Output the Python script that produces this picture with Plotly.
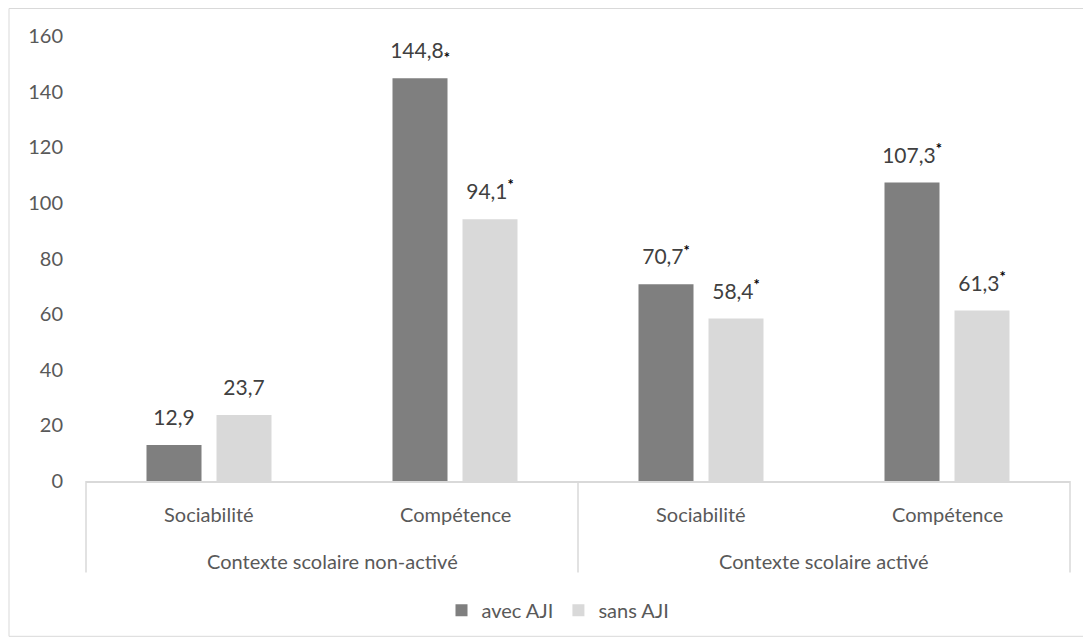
import plotly.graph_objects as go

groups = ["Contexte scolaire non-activé", "Contexte scolaire non-activé",
          "Contexte scolaire activé", "Contexte scolaire activé"]
categories = ["Sociabilité", "Compétence", "Sociabilité", "Compétence"]
avec_aji = [12.9, 144.8, 70.7, 107.3]
sans_aji = [23.7, 94.1, 58.4, 61.3]
avec_marks = ["", "<sub>*</sub>", "<sup>*</sup>", "<sup>*</sup>"]
sans_marks = ["", "<sup>*</sup>", "<sup>*</sup>", "<sup>*</sup>"]
y_ticks = [0, 20, 40, 60, 80, 100, 120, 140, 160]

def fmt(v):
    return f"{v:.1f}".replace(".", ",")

def star(m):
    return m.replace("*", "<span style='color:#000000;font-weight:bold'>*</span>")

FONT = "Lato, Open Sans, sans-serif"
TXT = "#595959"
LBL = "#404040"
FS = 20
GAP = 0.431

fig = go.Figure()
for name, vals, color in [("avec AJI", avec_aji, "#7f7f7f"), ("sans AJI", sans_aji, "#d9d9d9")]:
    fig.add_trace(go.Bar(
        x=[groups, categories], y=vals, name=name,
        marker=dict(color=color, line=dict(width=0)),
        hoverinfo="y",
    ))
for vals, marks in [(avec_aji, avec_marks), (sans_aji, sans_marks)]:
    fig.add_trace(go.Scatter(
        x=[groups, categories], y=vals, mode="markers+text",
        marker=dict(size=22, color="rgba(0,0,0,0)"),
        text=[fmt(v) + star(m) for v, m in zip(vals, marks)],
        textposition="top center", cliponaxis=False, showlegend=False,
        textfont=dict(size=21, color=LBL, family=FONT), hoverinfo="skip",
    ))

# page body has an 8px margin: figure origin is at screen (8, 8)
OFF = 8
W, H = 1091 - OFF, 643 - OFF
ml = 86 - OFF
mt = 36 - OFF
mr = W - (1070 - OFF)
mb = H - (481.5 - OFF)
pw, ph = W - ml - mr, H - mt - mb

def py(screen_y):
    return (H - mb - (screen_y - OFF)) / ph

def px(screen_x):
    return (screen_x - OFF - ml) / pw

shapes = [dict(type="rect", xref="paper", yref="paper",
               x0=px(9), x1=px(1085), y0=py(637), y1=py(8.5),
               line=dict(color="#d9d9d9", width=1), fillcolor="rgba(0,0,0,0)", layer="below")]
# group dividers under the axis
for xd in [0, 0.5, 1]:
    shapes.append(dict(type="line", xref="paper", yref="paper", x0=xd, x1=xd,
                       y0=0, y1=py(573), line=dict(color="#d9d9d9", width=1.5)))

annotations = []
n = len(categories)
for i, c in enumerate(categories):
    annotations.append(dict(xref="paper", yref="paper", x=(i + 0.5) / n, y=py(515),
                            text=c, showarrow=False, xanchor="center", yanchor="middle",
                            font=dict(size=FS, color=TXT, family=FONT)))
seen = []
for g in groups:
    if g not in seen:
        seen.append(g)
for j, g in enumerate(seen):
    annotations.append(dict(xref="paper", yref="paper", x=(j + 0.5) / len(seen), y=py(562),
                            text=g, showarrow=False, xanchor="center", yanchor="middle",
                            font=dict(size=FS, color=TXT, family=FONT)))

fig.update_layout(
    width=W, height=H,
    margin=dict(l=ml, r=mr, t=mt, b=mb, autoexpand=False),
    paper_bgcolor="white", plot_bgcolor="white",
    font=dict(family=FONT, size=FS, color=TXT),
    barmode="group", bargap=GAP, bargroupgap=0.214,
    scattermode="group", scattergap=GAP,
    legend=dict(orientation="h", x=px(558), xanchor="center",
                y=py(611), yanchor="middle",
                font=dict(size=FS, color=TXT), traceorder="normal"),
    shapes=shapes, annotations=annotations,
)
fig.update_xaxes(type="multicategory", showline=True, linecolor="#d9d9d9", linewidth=1.5,
                 showdividers=False, showticklabels=False,
                 ticks="", showgrid=False)
fig.update_yaxes(range=[0, 160], tickvals=y_ticks, showgrid=False, zeroline=False,
                 showline=False, ticks="", ticklabelstandoff=22,
                 tickfont=dict(size=FS, color=TXT, family=FONT))

fig.write_html("out.html")
